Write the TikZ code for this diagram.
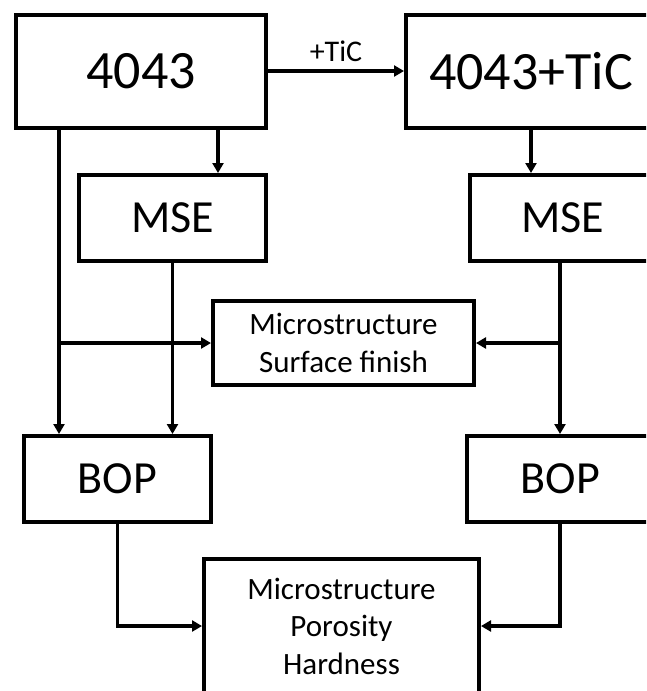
\documentclass[tikz,border=0pt]{standalone}
\usepackage{fontspec}
\setmainfont{Carlito}
\usepackage{tikz}
\usetikzlibrary{positioning, arrows.meta, calc}

\tikzset{
  box/.style={draw=black, line width=4pt, fill=white, inner sep=0pt},
  bigbox/.style={box, minimum width=250pt, minimum height=113pt,
                 font=\fontsize{54}{64}\selectfont},
  midbox/.style={box, minimum width=187pt, minimum height=86pt,
                 font=\fontsize{46}{55}\selectfont},
  propbox/.style={box, align=center, font=\fontsize{31}{37.5}\selectfont},
  arr/.style={line width=3.3pt, -{Triangle[length=10pt, width=11pt]}},
  link/.style={line width=3.3pt},
}

\begin{document}
\begin{tikzpicture}[x=1pt, y=-1pt]
  \useasboundingbox (0,0) rectangle (646,691);
  \clip (0,0) rectangle (646,691);
  \fill[white] (0,0) rectangle (646,691);

  % alloys
  \node[bigbox] (alloy)    at (141,71)  {4043};
  \node[bigbox] (alloytic) at (531,71)  {4043+TiC};
  % process steps
  \node[midbox] (mseL) at (172.5,218) {MSE};
  \node[midbox] (mseR) at (563,218)   {MSE};
  \node[midbox] (bopL) at (117.5,479) {BOP};
  \node[midbox] (bopR) at (560.5,479) {BOP};
  % evaluated properties
  \node[propbox, minimum width=261pt, minimum height=84pt]
        (surf) at (343.5,343) {Microstructure\\Surface finish};
  \node[propbox, minimum width=275pt, minimum height=134pt]
        (prop) at (341.5,626) {Microstructure\\Porosity\\Hardness};

  \coordinate (jL) at (59,343);
  \coordinate (jR) at (560,343);

  \draw[arr] (alloy.east) -- node[above=4pt, font=\fontsize{30}{36}\selectfont] (tic) {+TiC} (alloytic.west);
  \draw[arr] (alloy.south -| 218,0) -- (mseL.north -| 218,0);
  \draw[arr] (alloytic.south) -- (alloytic.south |- mseR.north);

  \draw[arr] (alloy.south -| jL) -- (bopL.north -| jL);
  \draw[arr] (jL) -- (surf.west);
  \draw[arr] (mseL.south) -- (mseL.south |- bopL.north);

  \draw[link] (mseR.south -| jR) -- (jR);
  \draw[arr] (jR) -- (bopR.north -| jR);
  \draw[arr] (jR) -- (surf.east);

  \draw[arr] (bopL.south) |- (prop.west);
  \draw[arr] (bopR.south -| jR) |- (prop.east);
\end{tikzpicture}
\end{document}
